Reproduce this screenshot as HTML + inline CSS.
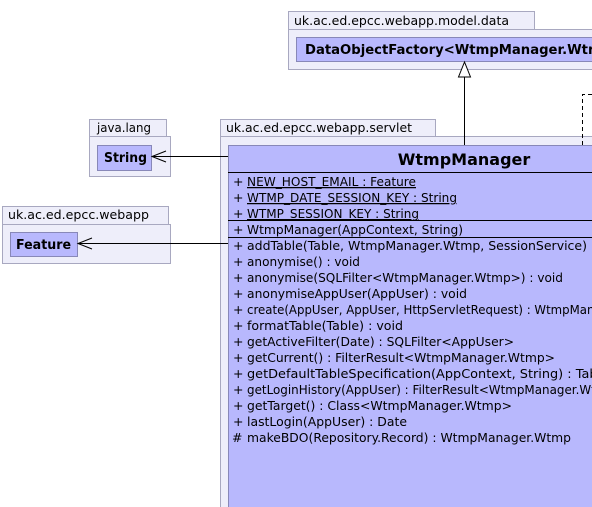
<!DOCTYPE html>
<html><head><style>body{margin:0;background:#fff}svg{display:block}</style></head><body>
<svg width="592" height="507" xmlns="http://www.w3.org/2000/svg" font-family="DejaVu Sans, sans-serif" font-size="12.5">
<!-- model.data package -->
<rect x="288.5" y="11.5" width="246" height="18" fill="#eeeefa" stroke="#a8a8c0"/>
<rect x="288.5" y="29.5" width="310" height="40" fill="#eeeefa" stroke="#a8a8c0"/>
<text x="294" y="25" textLength="215" lengthAdjust="spacingAndGlyphs">uk.ac.ed.epcc.webapp.model.data</text>
<rect x="296.5" y="37.5" width="310" height="24" fill="#b8b8fd" stroke="#8888b8"/>
<text x="305" y="54" font-weight="bold" font-size="13.2">DataObjectFactory&lt;WtmpManager.Wtmp&gt;</text>
<!-- java.lang -->
<rect x="89.5" y="119.5" width="77" height="17" fill="#eeeefa" stroke="#a8a8c0"/>
<rect x="89.5" y="136.5" width="81" height="40" fill="#eeeefa" stroke="#a8a8c0"/>
<text x="97" y="132" textLength="54" lengthAdjust="spacingAndGlyphs">java.lang</text>
<rect x="97.5" y="145.5" width="54" height="25" fill="#b8b8fd" stroke="#8888b8"/>
<text x="104" y="162" font-weight="bold" font-size="13" textLength="43" lengthAdjust="spacingAndGlyphs">String</text>
<!-- webapp -->
<rect x="2.5" y="206.5" width="166" height="18" fill="#eeeefa" stroke="#a8a8c0"/>
<rect x="2.5" y="224.5" width="168" height="39" fill="#eeeefa" stroke="#a8a8c0"/>
<text x="8" y="219" textLength="141" lengthAdjust="spacingAndGlyphs">uk.ac.ed.epcc.webapp</text>
<rect x="10.5" y="232.5" width="67" height="24" fill="#b8b8fd" stroke="#8888b8"/>
<text x="16" y="249" font-weight="bold" font-size="13" textLength="55" lengthAdjust="spacingAndGlyphs">Feature</text>
<!-- servlet -->
<rect x="220.5" y="119.5" width="215" height="17" fill="#eeeefa" stroke="#a8a8c0"/>
<rect x="220.5" y="136.5" width="380" height="380" fill="#eeeefa" stroke="#a8a8c0"/>
<text x="226" y="132" textLength="186" lengthAdjust="spacingAndGlyphs">uk.ac.ed.epcc.webapp.servlet</text>
<!-- connectors -->
<line x1="464.5" y1="77" x2="464.5" y2="145" stroke="#000"/>
<polygon points="464.5,62 458.5,77 470.5,77" fill="#fff" stroke="#000"/>
<path d="M582.5,145 V94.5 H600" fill="none" stroke="#000" stroke-dasharray="4,3"/>
<line x1="152" y1="156.5" x2="228" y2="156.5" stroke="#000"/>
<path d="M166,151 L152,156.5 L166,162" fill="none" stroke="#000"/>
<line x1="78" y1="243.5" x2="228" y2="243.5" stroke="#000"/>
<path d="M92,238 L78,243.5 L92,249" fill="none" stroke="#000"/>
<!-- class -->
<rect x="228.5" y="145.5" width="380" height="380" fill="#b8b8fd" stroke="#8888b8"/>
<text x="464" y="165" text-anchor="middle" font-weight="bold" font-size="16">WtmpManager</text>
<line x1="228" y1="172.5" x2="592" y2="172.5" stroke="#000"/>
<line x1="228" y1="220.5" x2="592" y2="220.5" stroke="#000"/>
<line x1="228" y1="237.5" x2="592" y2="237.5" stroke="#000"/>
<g font-size="12.5">
<text x="233" y="186">+</text><text x="247" y="186" text-decoration="underline" textLength="169" lengthAdjust="spacingAndGlyphs">NEW_HOST_EMAIL : Feature</text>
<text x="233" y="202">+</text><text x="247" y="202" text-decoration="underline" textLength="210" lengthAdjust="spacingAndGlyphs">WTMP_DATE_SESSION_KEY : String</text>
<text x="233" y="218">+</text><text x="247" y="218" text-decoration="underline" textLength="172" lengthAdjust="spacingAndGlyphs">WTMP_SESSION_KEY : String</text>
<text x="233" y="234">+</text><text x="247" y="234" textLength="216" lengthAdjust="spacingAndGlyphs">WtmpManager(AppContext, String)</text>
<text x="233" y="250">+</text><text x="247" y="250" textLength="340" lengthAdjust="spacingAndGlyphs">addTable(Table, WtmpManager.Wtmp, SessionService)</text>
<text x="233" y="266">+</text><text x="247" y="266" textLength="113" lengthAdjust="spacingAndGlyphs">anonymise() : void</text>
<text x="233" y="282">+</text><text x="247" y="282" textLength="316" lengthAdjust="spacingAndGlyphs">anonymise(SQLFilter&lt;WtmpManager.Wtmp&gt;) : void</text>
<text x="233" y="298">+</text><text x="247" y="298" textLength="220" lengthAdjust="spacingAndGlyphs">anonymiseAppUser(AppUser) : void</text>
<text x="233" y="314">+</text><text x="247" y="314" textLength="412" lengthAdjust="spacingAndGlyphs">create(AppUser, AppUser, HttpServletRequest) : WtmpManager.Wtmp</text>
<text x="233" y="330">+</text><text x="247" y="330" textLength="156" lengthAdjust="spacingAndGlyphs">formatTable(Table) : void</text>
<text x="233" y="346">+</text><text x="247" y="346" textLength="267" lengthAdjust="spacingAndGlyphs">getActiveFilter(Date) : SQLFilter&lt;AppUser&gt;</text>
<text x="233" y="362">+</text><text x="247" y="362" textLength="308" lengthAdjust="spacingAndGlyphs">getCurrent() : FilterResult&lt;WtmpManager.Wtmp&gt;</text>
<text x="233" y="378">+</text><text x="247" y="378" textLength="362" lengthAdjust="spacingAndGlyphs">getDefaultTableSpecification(AppContext, String) : Table</text>
<text x="233" y="394">+</text><text x="247" y="394" textLength="378" lengthAdjust="spacingAndGlyphs">getLoginHistory(AppUser) : FilterResult&lt;WtmpManager.Wtmp&gt;</text>
<text x="233" y="410">+</text><text x="247" y="410" textLength="265" lengthAdjust="spacingAndGlyphs">getTarget() : Class&lt;WtmpManager.Wtmp&gt;</text>
<text x="233" y="426">+</text><text x="247" y="426" textLength="160" lengthAdjust="spacingAndGlyphs">lastLogin(AppUser) : Date</text>
<text x="232" y="442">#</text><text x="247" y="442" textLength="324" lengthAdjust="spacingAndGlyphs">makeBDO(Repository.Record) : WtmpManager.Wtmp</text>
</g>
</svg>
</body></html>
